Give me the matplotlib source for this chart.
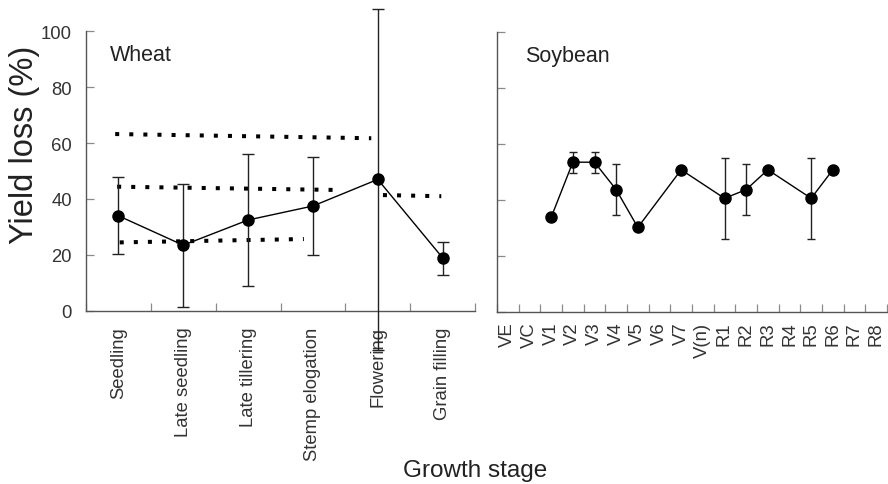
import matplotlib
matplotlib.use("Agg")
import matplotlib.pyplot as plt
import numpy as np

plt.rcParams['font.family'] = ['Liberation Sans', 'DejaVu Sans']

# ---- data ----
wheat_stages = ["Seedling", "Late seedling", "Late tillering", "Stemp elogation",
                "Flowering", "Grain filling"]
wheat_loss = [34.0, 23.5, 32.5, 37.5, 47.0, 19.0]
wheat_err_low = [13.5, 22.0, 23.5, 17.5, 61.0, 6.0]
wheat_err_high = [14.0, 22.0, 23.5, 17.5, 61.0, 5.5]

# dotted reference lines (x start, x end, y start, y end) in stage units
dot_x_start = [0.45, 0.48, 4.58, 0.52]
dot_x_end = [4.40, 3.95, 5.48, 3.36]
dot_y_start = [63.2, 44.4, 41.4, 24.5]
dot_y_end = [61.7, 43.2, 41.0, 25.7]

soy_stages = ["VE", "VC", "V1", "V2", "V3", "V4", "V5", "V6", "V7", "V(n)",
              "R1", "R2", "R3", "R4", "R5", "R6", "R7", "R8"]
soy_points = ["V1", "V2", "V3", "V4", "V5", "V7", "R1", "R2", "R3", "R5", "R6"]
soy_loss = [33.8, 53.5, 53.5, 43.7, 30.2, 50.8, 40.6, 43.7, 50.8, 40.6, 50.8]
soy_err = [0, 3.8, 3.8, 9.2, 0, 0, 14.5, 9.2, 0, 14.5, 0]

yticks = [0, 20, 40, 60, 80, 100]

# ---- figure ----
fig = plt.figure(figsize=(8.88, 4.85), dpi=100)
axL = fig.add_axes([86/888, 1-312/485, 389/888, 280/485])
axR = fig.add_axes([497/888, 1-313/485, 390/888, 280/485])

spine_col = "#555555"
tick_col = "#8a8a8a"
text_col = "#333333"
tfs = 13.3

for ax in (axL, axR):
    for s in ("top", "right"):
        ax.spines[s].set_visible(False)
    for s in ("left", "bottom"):
        ax.spines[s].set_color(spine_col)
        ax.spines[s].set_linewidth(1.0)
    ax.set_ylim(0, 100)
    ax.set_yticks(yticks)
    ax.tick_params(axis="both", which="major", direction="in", length=6,
                   color=tick_col, width=0.9)
    ax.tick_params(axis="x", which="minor", length=0)

# ---- wheat ----
nW = len(wheat_stages)
xW = np.arange(nW) + 0.5
axL.set_xlim(0, nW)
axL.set_xticks(np.arange(0, nW + 1))
axL.set_xticklabels([])
axL.set_xticks(xW, minor=True)
axL.set_xticklabels(wheat_stages, minor=True, rotation=90, fontsize=tfs,
                    color=text_col)
axL.tick_params(axis="x", which="minor", pad=11)
axL.set_yticklabels([str(v) for v in yticks], fontsize=tfs, color=text_col)
axL.tick_params(axis="y", pad=10)

for xs, xe, ys, ye in zip(dot_x_start, dot_x_end, dot_y_start, dot_y_end):
    axL.plot([xs, xe], [ys, ye], color="black", lw=2.9,
             linestyle=(0, (1, 2.5)), dash_capstyle="butt", zorder=2)

eb = axL.errorbar(xW, wheat_loss, yerr=[wheat_err_low, wheat_err_high],
                  fmt="-o", color="black", ecolor="#222222", lw=1.0,
                  elinewidth=1.0, capsize=4.5, capthick=1.0, markersize=8,
                  zorder=4)
for art in eb.lines[1] + eb.lines[2]:
    art.set_clip_on(False)
    art.set_zorder(4)
eb.lines[0].set_clip_on(False)
for c in eb[2]:
    c.set_clip_on(False)
    c.set_zorder(4)

axL.text(0.062, 91.5, "Wheat", fontsize=15.5, color="#222222", va="center",
         ha="left", transform=axL.get_yaxis_transform())

# ---- soybean ----
nS = len(soy_stages)
axR.set_xlim(0, nS)
axR.set_xticks(np.arange(0, nS + 1))
axR.set_xticklabels([])
axR.set_xticks(np.arange(nS) + 0.5, minor=True)
axR.set_xticklabels(soy_stages, minor=True, rotation=90, fontsize=tfs,
                    color=text_col)
axR.tick_params(axis="x", which="minor", pad=7)
axR.set_yticklabels([])

xS = [soy_stages.index(s) + 0.5 for s in soy_points]
axR.plot(xS, soy_loss, "-o", color="black", lw=1.0, markersize=8, zorder=4)
idx = [i for i, e in enumerate(soy_err) if e > 0]
axR.errorbar([xS[i] for i in idx], [soy_loss[i] for i in idx],
             yerr=[soy_err[i] for i in idx], fmt="none", ecolor="#222222",
             elinewidth=1.0, capsize=2.8, capthick=1.0, zorder=3)

axR.text(0.072, 91.5, "Soybean", fontsize=15.5, color="#222222", va="center",
         ha="left", transform=axR.get_yaxis_transform())

# ---- shared labels ----
fig.text(25/888, 1-145/485, "Yield loss (%)", rotation=90, fontsize=23.5,
         color="#222222", ha="center", va="center")
fig.text(475/888, 1-471/485, "Growth stage", fontsize=17.5, color="#222222",
         ha="center", va="center")

fig.savefig("out.png", dpi=100)
